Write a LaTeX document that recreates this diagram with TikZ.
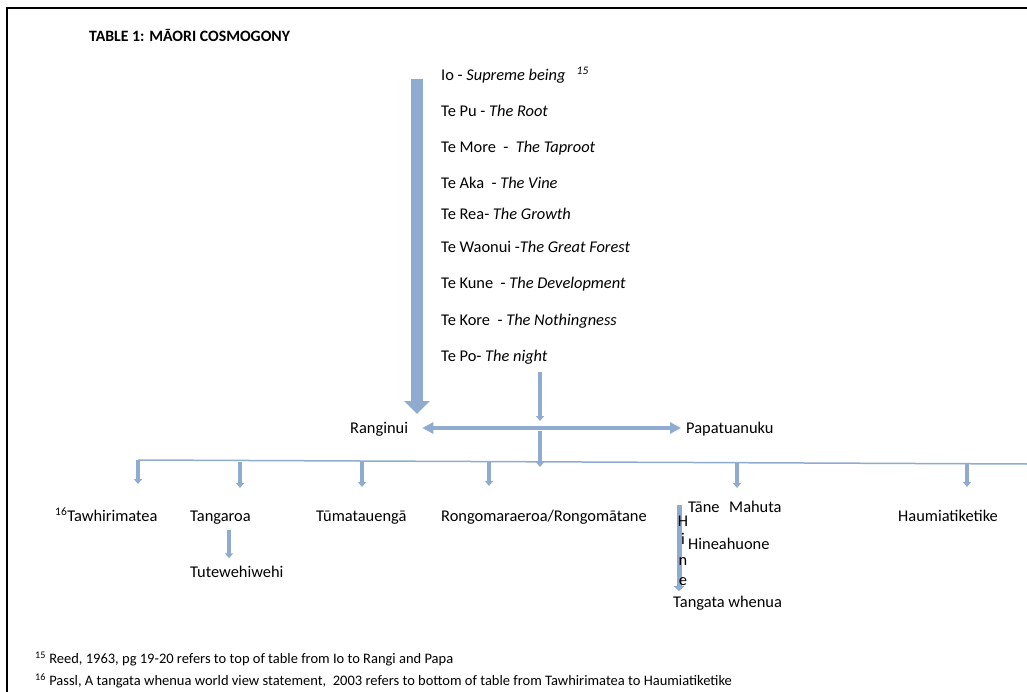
\documentclass[tikz,border=0pt]{standalone}
\usepackage{fontspec}
\setmainfont{Carlito}
\usepackage{tikz}
\usetikzlibrary{positioning,arrows.meta}
\definecolor{arrowblue}{RGB}{143,172,208}
\definecolor{arrowedge}{RGB}{110,140,180}

\begin{document}
\begin{tikzpicture}
		[x=1pt,y=-1pt,
		every node/.style={inner sep=0pt,anchor=west,text height=14pt,text depth=3pt,font=\fontsize{16.4}{19}\selectfont},
		bigarrow/.style={draw=arrowblue,line width=12pt,-{Triangle[width=25pt,length=13pt,fill=arrowblue]}},
		smallarrow/.style={draw=arrowblue,line width=3.5pt,-{Triangle[width=8pt,length=5pt]}},
		twoway/.style={draw=arrowblue,line width=4pt,{Triangle[width=11pt,length=11pt]}-{Triangle[width=11pt,length=11pt]}},
		branch/.style={draw=arrowblue,line width=1.5pt},
		note/.style={font=\fontsize{14.5}{17}\selectfont}]
		\useasboundingbox (0,0) rectangle (1027,692);
		\draw[line width=2pt] (7,692) -- (7,8) -- (1027,8);
		\node[font=\bfseries\fontsize{15.8}{18}\selectfont] (title) at (89,36) {TABLE 1: MĀORI COSMOGONY};
		% top of the table
		\node (io) at (441,75) {Io - \textit{Supreme being}\ \ \ \textsuperscript{\itshape 15}};
		\node (pu) at (441,111) {Te Pu - \textit{The Root}};
		\node (more) at (441,147) {Te More \ - \ \textit{The Taproot}};
		\node (aka) at (441,183) {Te Aka \ - \textit{The Vine}};
		\node (rea) at (441,214) {Te Rea- \textit{The Growth}};
		\node (waonui) at (441,247) {Te Waonui -\textit{The Great Forest}};
		\node (kune) at (441,283) {Te Kune \ - \textit{The Development}};
		\node (kore) at (441,320) {Te Kore \ - \textit{The Nothingness}};
		\node (po) at (441,356) {Te Po- \textit{The night}};
		\coordinate (stemtop) at (417,79);
		\coordinate (stembot) at (417,414);
		\draw[bigarrow] (stemtop) -- (stembot);
		\node (rangi) at (350,428) {Ranginui};
		\node (papa) at (686,428) {Papatuanuku};
		\draw[twoway] ([xshift=14pt]rangi.east) -- ([xshift=-5pt]papa.west);
		\coordinate (poend) at (540,421);
		\draw[smallarrow] (po.south -| poend) ++(0,7) -- (poend);
		\coordinate (mid) at (540,431);
		\coordinate (midend) at (540,467);
		\draw[smallarrow] (mid) -- (midend);
		% children
		\coordinate (lineleft) at (138,460);
		\coordinate (lineright) at (1027,464);
		\draw[branch] (lineleft) -- (lineright);
		\node (tawhiri) at (55,516) {\textsuperscript{16}Tawhirimatea};
		\node (tangaroa) at (190,516) {Tangaroa};
		\node (tuma) at (316,516) {Tūmatauengā};
		\node (rongo) at (441,516) {Rongomaraeroa/Rongomātane};
		\node (tane) at (688,507) {Tāne\hspace{6pt} Mahuta};
		\node (haumia) at (898,516) {Haumiatiketike};
		\foreach \x/\a/\b in {138/460/484,240/462/488,362/462/487,489/462/486,737/463/488,967/463/487}
			\draw[smallarrow] (\x,\a) -- (\x,\b);
		\node (tute) at (190,572) {Tutewehiwehi};
		\draw[smallarrow] ([xshift=39pt,yshift=-5pt]tangaroa.south west) -- ([xshift=39pt,yshift=5pt]tute.north west);
		\node (hineahu) at (688,544) {Hineahuone};
		\node (whenua) at (673,602) {Tangata whenua};
		\coordinate (hinetop) at (679,505);
		\coordinate (hinebot) at (679,591);
		\draw[smallarrow,line width=5pt,-{Triangle[width=11pt,length=5pt]}] (hinetop) -- (hinebot);
		\foreach \l/\y in {H/521,i/539,n/560,e/580}
			\node[anchor=center] (hine\l) at (683,\y) {\l};
		% sources
		\node[note] (fn15) at (35,658) {\textsuperscript{15} Reed, 1963, pg 19-20 refers to top of table from Io to Rangi and Papa};
		\node[note] (fn16) at (35,680) {\textsuperscript{16} Passl, A tangata\ whenua world view statement,\ \ 2003 refers to bottom of table\ from Tawhirimatea\ to Haumiatiketike};
\end{tikzpicture}
\end{document}
